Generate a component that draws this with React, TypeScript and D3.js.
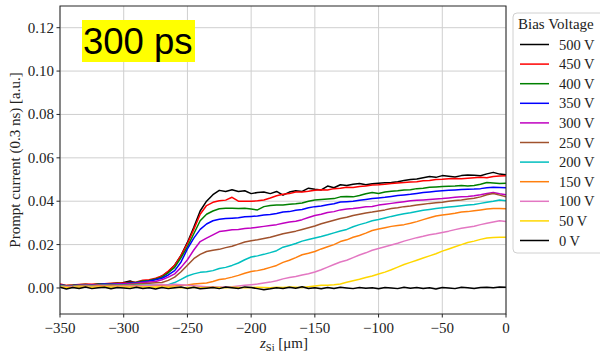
import React from "react";
import * as d3 from "d3";

// Sample positions along z_Si (µm), 5 µm step
const zSamples: number[] = d3.range(-350, 1, 5);

// Prompt current per bias voltage, in units of 1e-3 a.u.
const v500 = [
  1.5, 0.8, 1.0, 1.2, 1.4, 1.2, 1.5, 1.6, 1.8, 1.7,
  2.5, 3.2, 2.2, 2.8, 3.5, 4.0, 5.5, 7.5, 10.5, 15,
  21, 28, 35.5, 40, 43, 45, 44.5, 45.3, 44.5, 44.8,
  43.5, 44, 44.2, 43.5, 44.5, 42.8, 44.2, 44.8, 44.5, 46,
  45.5, 45.2, 47, 46.2, 47.6, 47.2, 47.8, 48.2, 47.6, 48,
  48.3, 48.5, 48.6, 49, 49.5, 50, 50.2, 50.8, 51.4, 51,
  51.8, 51.5, 51.2, 51.8, 52.1, 52, 51.7, 52.6, 53.3, 52.5,
  52.2,
];
const v450 = [
  1.8, 1.2, 1.4, 1.6, 1.8, 1.7, 2.0, 2.0, 2.2, 2.4,
  2.3, 2.6, 2.8, 3.6, 3.8, 4.5, 5.5, 7.8, 10.5, 15,
  20.5, 27, 34, 38, 39.5, 40.2, 40.5, 41.8, 40, 40,
  40, 40.2, 40.6, 41.5, 42.5, 43.2, 43.5, 44.2, 44.3, 44.6,
  45, 45.3, 45.2, 45.8, 46, 46.4, 46.3, 46.8, 47, 47.5,
  47.6, 47.8, 48.2, 48.4, 48.6, 48.9, 49, 49.4, 49.6, 50,
  50.1, 50.3, 50.5, 50.3, 50.6, 50.8, 51, 50.8, 51.4, 51.6,
  51.7,
];
const v400 = [
  1.5, 1.0, 1.2, 1.5, 1.6, 1.4, 1.8, 1.9, 2.0, 2.2,
  2.0, 2.4, 2.6, 3.2, 3.5, 4.2, 5.0, 7.0, 9.5, 14,
  19, 25, 31, 34, 35.5, 36.5, 36.8, 36.8, 36.6, 36.8,
  36.4, 36, 37.5, 38, 38.2, 38.3, 38.6, 38.8, 39.2, 40,
  40.6, 40.8, 41, 41.2, 42, 42.2, 42, 42.6, 43.4, 44,
  43.6, 44.2, 44.6, 44.8, 45.2, 45.3, 45.8, 46, 46.4, 46.6,
  46.8, 46.9, 47, 47.2, 47, 47.2, 47.8, 48.6, 48.4, 48.2,
  48.3,
];
const v350 = [
  1.4, 1.0, 1.1, 1.3, 1.5, 1.4, 1.6, 1.8, 1.7, 2.0,
  2.0, 2.2, 2.4, 2.8, 3.2, 3.8, 4.5, 6.0, 8.0, 12,
  18, 23, 27, 29.5, 31, 31.7, 32, 32.2, 32.4, 32.8,
  33, 33.2, 33.6, 33.9, 34.3, 35, 35.2, 35.8, 36.2, 37,
  37.5, 37.8, 38.4, 38.8, 39.6, 39.8, 40, 40.4, 40.8, 41.2,
  41.5, 41.8, 42.2, 42.6, 42.9, 43.2, 43.6, 44, 44.3, 44.6,
  44.8, 45, 45.2, 45.4, 45.5, 45.6, 45.8, 46.2, 46.4, 46.3,
  46.2,
];
const v300 = [
  1.3, 0.9, 1.0, 1.2, 1.4, 1.3, 1.5, 1.6, 1.6, 1.8,
  1.8, 2.0, 2.2, 2.5, 2.8, 3.0, 3.8, 5.0, 6.5, 9.5,
  13, 17.5, 21.4, 23, 24.5, 26, 26.4, 26.8, 27, 27.4,
  27.6, 28, 28.4, 28.8, 29.2, 29.8, 30.4, 30.8, 31.5, 32.5,
  33.4, 34, 34.8, 35.2, 36, 36.4, 36.6, 37, 37.4, 37.6,
  38.2, 38.6, 39, 39.4, 39.8, 40.2, 40.4, 40.6, 40.8, 41,
  41.2, 41.5, 41.8, 42, 42.2, 42.5, 43, 43.6, 44, 43.4,
  43,
];
const v250 = [
  1.2, 0.8, 0.9, 1.1, 1.2, 1.1, 1.3, 1.4, 1.4, 1.5,
  1.5, 1.6, 1.8, 2.0, 2.2, 2.4, 2.5, 3.5, 5.0, 7.5,
  10.5, 13.5, 15.5, 16.8, 17.4, 17.8, 18.6, 19.2, 20.2, 21.2,
  21.8, 22.2, 22.8, 23.4, 24.2, 25, 25.6, 26.2, 27, 27.8,
  28.6, 29.6, 30.4, 31.2, 32, 32.6, 33.4, 34, 34.6, 35,
  35.5, 36, 36.6, 37, 37.5, 37.8, 38.2, 38.6, 39, 39.3,
  39.5, 40, 40.3, 40.6, 41, 41.4, 42, 43, 43.6, 42.8,
  42,
];
const v200 = [
  1.0, 0.7, 0.8, 1.0, 1.1, 1.0, 1.1, 1.2, 1.1, 1.2,
  1.2, 1.3, 1.2, 1.3, 1.4, 1.4, 1.5, 1.5, 2.5, 4.0,
  5.5, 6.5, 7.2, 7.5, 8, 9, 9.5, 10.4, 11.5, 13,
  14.3, 14.8, 15.5, 16.3, 17.2, 18.8, 19.6, 20.5, 21.6, 22.3,
  23, 23.7, 24.5, 25.4, 26.3, 27, 28.2, 29.2, 30, 31,
  31.6, 32.3, 33, 33.6, 34.2, 34.7, 35.3, 35.8, 36.2, 36.6,
  37, 37.3, 37.6, 37.9, 38.2, 38.5, 39, 39.5, 40, 40.6,
  40.2,
];
const v150 = [
  0.8, 0.6, 0.7, 0.9, 0.9, 0.8, 1.0, 1.0, 0.9, 1.0,
  1.0, 1.1, 1.0, 1.1, 1.0, 1.1, 1.0, 0.9, 0.9, 1.2,
  1.4, 1.8, 2.1, 2.3, 3.0, 3.9, 4.3, 5.0, 5.8, 6.8,
  7.6, 8, 8.6, 9.5, 10.4, 11.8, 12.8, 14, 15.3, 16,
  16.8, 18, 19, 20, 21.4, 22.2, 23.4, 24.2, 25.3, 26.5,
  27.2, 27.8, 28.4, 28.8, 29.2, 29.8, 30.6, 31.5, 32.4, 33.2,
  33.6, 34, 34.4, 35, 35.2, 35.6, 36, 36.4, 36.6, 36.6,
  36.5,
];
const v100 = [
  0.6, 0.4, 0.5, 0.6, 0.7, 0.6, 0.7, 0.8, 0.7, 0.8,
  0.8, 0.9, 0.8, 1.0, 1.2, 1.4, 1.6, 1.4, 1.7, 1.5,
  1.2, 1.0, 0.8, 0.6, 0.6, 0.5, 0.5, 0.6, 0.9, 1.2,
  1.5, 1.8, 2.3, 2.7, 3.3, 4.2, 4.8, 5.3, 6.0, 6.6,
  7.4, 8.4, 9.6, 10.8, 12, 12.8, 14, 15.2, 16.2, 17.4,
  18.2, 19, 19.8, 20.6, 21.6, 22.4, 23.2, 23.8, 24.5, 25,
  25.6, 26.2, 26.9, 27.5, 28, 28.5, 29.2, 29.8, 30.4, 31,
  30.6,
];
const v50 = [
  0.4, 0.2, 0.3, 0.5, 0.4, 0.3, 0.5, 0.6, 0.4, 0.5,
  0.4, 0.5, 0.3, 0.4, 0.5, 0.3, 0.4, 0.2, 0.3, 0.1,
  0.2, 0.3, 0.1, 0.2, 0.3, 0.2, 0.1, 0.3, 0.2, 0.1,
  0.2, 0.3, 0.2, 0.1, 0.3, 0.2, 0.4, 0.3, 0.2, 0.6,
  0.9, 1.2, 1.3, 1.5, 1.8, 2.6, 3.3, 4.0, 4.8, 5.5,
  6.4, 7.3, 8.4, 9.6, 10.8, 11.8, 12.8, 13.8, 14.8, 15.8,
  17, 18, 19, 20, 21, 21.6, 22.4, 23, 23.3, 23.4,
  23.4,
];
const v0 = [
  0.3, -0.5, 0.2, -0.2, 0.4, -0.3, 0.1, 0.3, -0.4, 0.2,
  0.0, -0.3, 0.3, -0.2, 0.1, -0.5, 0.2, -0.3, 0.1, 0.4,
  -0.2, 0.3, -0.4, -0.1, 0.2, -0.3, 0.4, 0.1, -0.2, 0.5,
  0.2, -0.3, -0.8, -0.4, 0.1, -0.2, 0.3, -0.1, 0.6, -0.2,
  0.1, -0.4, 0.2, -0.2, 0.3, 0.0, -0.3, 0.2, -0.1, 0.1,
  -0.4, 0.2, 0.0, -0.3, 0.3, -0.1, 0.2, -0.2, 0.1, -0.5,
  0.2, 0.0, -0.3, 0.3, 0.1, -0.2, 0.2, 0.3, 0.1, 0.4,
  0.3,
];

const UNIT = 1e-3;

const seriesLabels = ["500 V", "450 V", "400 V", "350 V", "300 V", "250 V", "200 V", "150 V", "100 V", "50 V", "0 V"];
const seriesValues = [v500, v450, v400, v350, v300, v250, v200, v150, v100, v50, v0];
const seriesColors = ["#000000", "#ff0000", "#008000", "#0000ff", "#c000c0", "#a0522d", "#00bfbf", "#ff7f0e", "#e377c2", "#ffd700", "#000000"];

const xTicks = [-350, -300, -250, -200, -150, -100, -50, 0];
const yTicks = [0, 0.02, 0.04, 0.06, 0.08, 0.1, 0.12];

const W = 600;
const H = 353;
const plot = { left: 60, right: 506, top: 6, bottom: 314 };
const serif = "'Liberation Serif', 'DejaVu Serif', serif";

const fmtMinus = (s: string) => s.replace("-", "\u2212");

export default function App() {
  const x = d3.scaleLinear().domain([-350, 0]).range([plot.left, plot.right]);
  const y = d3.scaleLinear().domain([-0.012, 0.13]).range([plot.bottom, plot.top]);

  const line = d3
    .line<[number, number]>()
    .x((d) => x(d[0]))
    .y((d) => y(d[1]));

  const legendX = 513;
  const legendY = 13;
  const rowStart = 44.5;
  const rowGap = 19.6;

  return (
    <svg
      width={W}
      height={H}
      viewBox={`0 0 ${W} ${H}`}
      style={{ position: "absolute", left: 0, top: 0, background: "#fff" }}
    >
      <defs>
        <clipPath id="plotClip">
          <rect x={plot.left} y={plot.top} width={plot.right - plot.left} height={plot.bottom - plot.top} />
        </clipPath>
      </defs>

      {/* grid */}
      <g stroke="#cfcfcf" strokeWidth={1}>
        {xTicks.map((t) => (
          <line key={`gx${t}`} x1={x(t)} x2={x(t)} y1={plot.top} y2={plot.bottom} />
        ))}
        {yTicks.map((t) => (
          <line key={`gy${t}`} x1={plot.left} x2={plot.right} y1={y(t)} y2={y(t)} />
        ))}
      </g>

      {/* curves */}
      <g clipPath="url(#plotClip)" fill="none" strokeWidth={1.5} strokeLinejoin="round">
        {seriesValues.map((vals, i) => (
          <path
            key={seriesLabels[i]}
            d={line(vals.map((v, j) => [zSamples[j], v * UNIT] as [number, number])) || ""}
            stroke={seriesColors[i]}
          />
        ))}
      </g>

      {/* spines */}
      <rect
        x={plot.left}
        y={plot.top}
        width={plot.right - plot.left}
        height={plot.bottom - plot.top}
        fill="none"
        stroke="#262626"
        strokeWidth={1}
      />

      {/* x axis */}
      <g fontFamily={serif} fontSize={15} fill="#222">
        {xTicks.map((t) => (
          <g key={`xt${t}`}>
            <line x1={x(t)} x2={x(t)} y1={plot.bottom} y2={plot.bottom + 3.5} stroke="#262626" />
            <text x={x(t)} y={333} textAnchor="middle">
              {fmtMinus(String(t))}
            </text>
          </g>
        ))}
        <text x={284} y={348} textAnchor="middle">
          <tspan fontStyle="italic">z</tspan>
          <tspan fontSize={10.5} dy={3}>Si</tspan>
          <tspan dy={-3}> [μm]</tspan>
        </text>
      </g>

      {/* y axis */}
      <g fontFamily={serif} fontSize={15} fill="#222">
        {yTicks.map((t) => (
          <g key={`yt${t}`}>
            <line x1={plot.left - 3.5} x2={plot.left} y1={y(t)} y2={y(t)} stroke="#262626" />
            <text x={plot.left - 6} y={y(t) + 5} textAnchor="end">
              {d3.format(".2f")(t)}
            </text>
          </g>
        ))}
        <text
          transform={`translate(20, ${(plot.top + plot.bottom) / 2}) rotate(-90)`}
          textAnchor="middle"
        >
          Prompt current (0.3 ns) [a.u.]
        </text>
      </g>

      {/* time-window tag */}
      <rect x={82} y={20} width={113} height={42} fill="#ffff00" />
      <text x={83} y={53.5} fontFamily="'Liberation Sans', Arial, sans-serif" fontSize={36.5} fill="#000">
        300 ps
      </text>

      {/* legend */}
      <g fontFamily={serif} fill="#222">
        <rect
          x={legendX}
          y={legendY}
          width={100}
          height={240}
          rx={4}
          fill="#fff"
          fillOpacity={0.85}
          stroke="#d0d0d0"
          strokeWidth={1}
        />
        <text x={518} y={29} fontSize={15}>
          Bias Voltage
        </text>
        {seriesLabels.map((lab, i) => {
          const cy = rowStart + i * rowGap;
          return (
            <g key={`lg${lab}`}>
              <line x1={520} x2={549} y1={cy} y2={cy} stroke={seriesColors[i]} strokeWidth={1.5} />
              <text x={559} y={cy + 5} fontSize={14.5}>
                {lab}
              </text>
            </g>
          );
        })}
      </g>
    </svg>
  );
}
